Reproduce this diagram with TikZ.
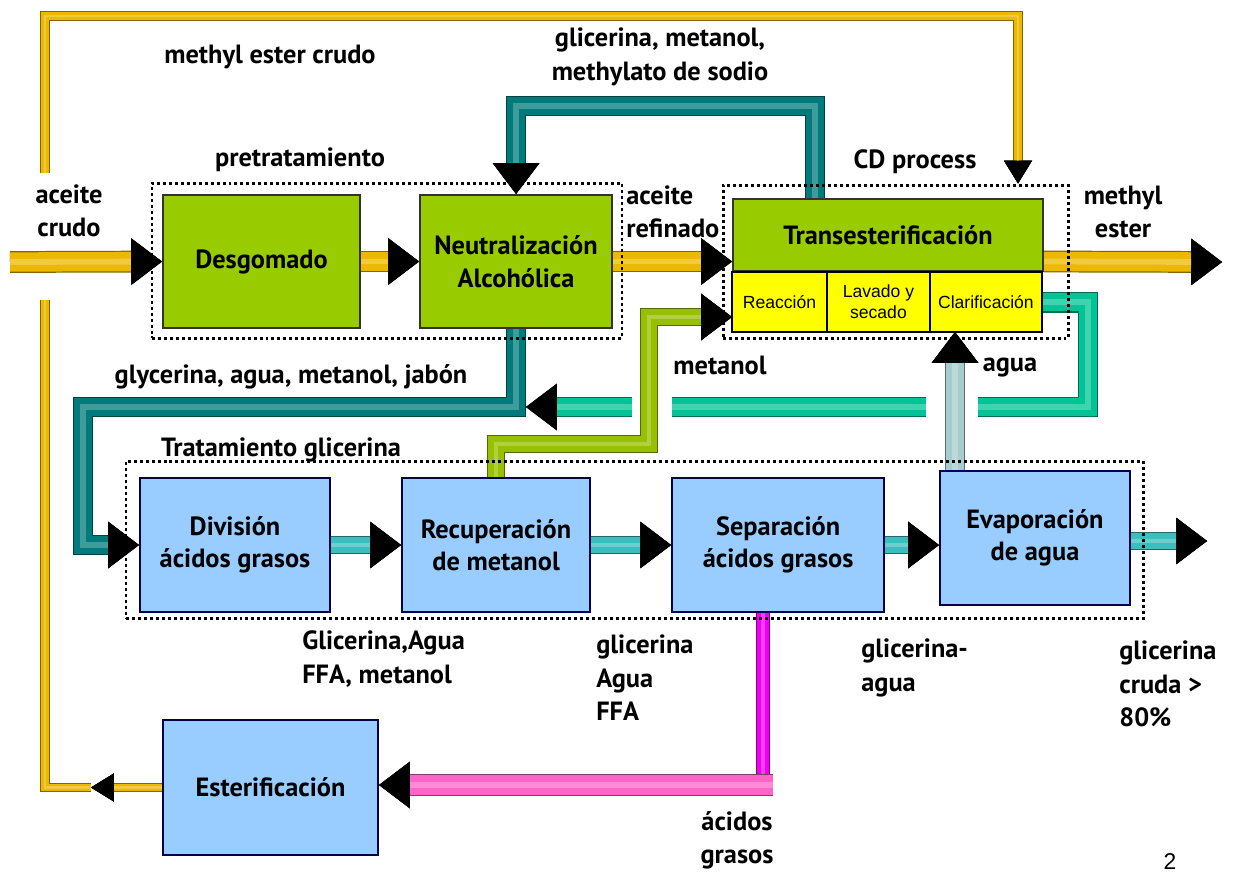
\documentclass[tikz,border=0pt]{standalone}
\usepackage{fontspec}
\setmainfont{PT Sans}
\newfontfamily\arialfont{Liberation Sans}
\usetikzlibrary{positioning,arrows.meta,fit,calc,backgrounds}

\definecolor{boxgreen}{RGB}{153,204,0}
\definecolor{boxyellow}{RGB}{255,255,0}
\definecolor{boxblue}{RGB}{153,204,255}
\definecolor{pgold}{RGB}{236,184,0}
\definecolor{pteal}{RGB}{0,122,122}
\definecolor{pagua}{RGB}{0,196,150}
\definecolor{polive}{RGB}{150,192,0}
\definecolor{pcyan}{RGB}{60,190,190}
\definecolor{pgrey}{RGB}{165,205,205}
\definecolor{ppink}{RGB}{255,100,200}
\definecolor{pmag}{RGB}{240,0,240}

\tikzstyle{gbox}=[rectangle, draw=black!80, fill=boxgreen, line width=1.2pt,
                  minimum height=2.66cm, inner sep=2pt, align=center,
                  font=\bfseries\fontsize{15}{19}\selectfont]
\tikzstyle{bbox}=[rectangle, draw=black!70!blue, fill=boxblue, line width=1.2pt,
                  minimum height=2.68cm, inner sep=2pt, align=center,
                  font=\bfseries\fontsize{15}{18.5}\selectfont]
\tikzstyle{ybox}=[rectangle, draw=black, fill=boxyellow, line width=0.8pt,
                  minimum height=1.2cm, inner sep=1pt, outer sep=0pt, align=center,
                  font=\arialfont\fontsize{10}{12}\selectfont]
\tikzstyle{frame}=[rectangle, draw=black, line width=1.7pt,
                   dash pattern=on 1.7pt off 1.7pt, inner sep=0pt]
\tikzstyle{lbl}=[font=\bfseries\fontsize{15}{19}\selectfont, align=center, inner sep=0pt]
\tikzstyle{bigtip}=[-{Triangle[length=17.5pt, width=26.5pt, line width=0pt, color=black]}]
\tikzstyle{smalltip}=[-{Triangle[length=13pt, width=16pt, line width=0pt, color=black]}]
\tikzset{pipe/.style 2 args={draw=#1, line width=#2,
          preaction={draw=#1!55!black, line width=#2+1.4pt},
          postaction={draw=#1!75!white, line width=0.3*#2}}}

\begin{document}
\begin{tikzpicture}[x=0.02cm, y=-0.02cm]
\useasboundingbox (0,0) rectangle (1248,873);

\node (Desg) [gbox, minimum width=3.94cm] at (261.5,261.5) {Desgomado};
\node (Neut) [gbox, minimum width=3.84cm, right=1.16cm of Desg] {Neutralización\\Alcohólica};
\node (Trans) [gbox, minimum width=6.2cm, minimum height=1.44cm] at (888,235) {Transesterificación};
\node (Reac) [ybox, minimum width=1.9cm, below right=0cm and 0cm of Trans.south west] {Reacción};
\node (Lav) [ybox, minimum width=2.06cm, right=0cm of Reac] {Lavado y\\secado};
\node (Clar) [ybox, minimum width=2.24cm, right=0cm of Lav] {Clarificación};

\node (Div) [bbox, minimum width=3.8cm] at (235,545) {División\\ácidos grasos};
\node (Recu) [bbox, minimum width=3.76cm, right=1.4cm of Div] {Recuperación\\de metanol};
\node (Sepa) [bbox, minimum width=4.24cm, right=1.6cm of Recu] {Separación\\ácidos grasos};
\node (Evap) [bbox, minimum width=3.8cm] at (1035,538) {Evaporación\\de agua};
\node (Ester) [bbox, minimum width=4.3cm, minimum height=2.7cm] at (270.5,787.5) {Esterificación};

\node (pre) [frame, fit={(152,183) (622,338)}] {};
\node (CD) [frame, fit={(723,185) (1068,338)}] {};
\node (trat) [frame, fit={(126,461) (1143,618)}] {};

\node (lmec) [lbl] at (270,57) {methyl ester crudo};
\node (lgmm) [lbl] at (660,57) {glicerina, metanol,\\methylato de sodio};
\node (lpre) [lbl] at (300,160) {pretratamiento};
\node (lcd) [lbl] at (915,162) {CD process};
\node (lac) [lbl] at (69,211) {aceite\\crudo};
\node (lar) [lbl, align=left, anchor=west] at (626,212) {aceite\\refinado};
\node (lme) [lbl] at (1123,212) {methyl\\ester};
\node (lgly) [lbl] at (291,377) {glycerina, agua, metanol, jabón};
\node (lmet) [lbl] at (720,365) {metanol};
\node (lagua) [lbl] at (1010,368) {agua};
\node (ltrat) [lbl] at (281,450) {Tratamiento glicerina};
\node (lgafm) [lbl, align=left, anchor=west] at (302,659) {Glicerina,Agua\\FFA, metanol};
\node (lgaf) [lbl, align=left, anchor=west] at (596,678) {glicerina\\Agua\\FFA};
\node (lga) [lbl, align=left, anchor=west] at (861,668) {glicerina-\\agua};
\node (lgc) [lbl, align=left, anchor=west] at (1119,684) {glicerina\\cruda >\\80\%};
\node (lag) [lbl] at (737,840) {ácidos\\grasos};
\node (lnum) [font=\arialfont\fontsize{13}{15}\selectfont] at (1170,862) {2};

\coordinate (oin) at (10,262);
\coordinate (oout) at (1222,262);
\coordinate (ylow) at (45,300);
\coordinate (yhigh) at (45,173);
\coordinate (ytop) at (1018,16);
\coordinate (tloop) at (815,106);
\coordinate (gjab) at (83,407);
\coordinate (agR) at (1088,407);
\coordinate (ag1) at (978,407);
\coordinate (ag2) at (926,407);
\coordinate (ag3) at (672,407);
\coordinate (ag4) at (632,407);
\coordinate (olA) at (649,444);
\coordinate (olB) at (649,317);
\coordinate (grx) at (955,400);
\coordinate (gout) at (1207,541);
\coordinate (mg) at (763,785);

\begin{scope}[on background layer]
 \draw[pipe={pgold}{11pt}, bigtip] (oin) -- (Desg.west);
 \draw[pipe={pgold}{11pt}, bigtip] (Desg.east) -- (Neut.west);
 \draw[pipe={pgold}{11pt}, bigtip] (Neut.east) -- (Neut.east -| Trans.west);
 \draw[pipe={pgold}{11pt}, bigtip] (Trans.east |- Neut.east) -- (oout);

 \draw[pipe={pgold}{4pt}, smalltip] (Ester.west) -- ++(-71,0) coordinate (yarr);
 \draw[pipe={pgold}{4pt}] (yarr) -| (ylow);
 \draw[pipe={pgold}{4pt}, smalltip] (yhigh) |- (ytop) -- (ytop |- CD.north);

 \draw[pipe={pteal}{10pt}, bigtip] (Trans.north -| tloop) -- (tloop) -| (Neut.north);
 \draw[pipe={pteal}{10pt}, bigtip] (Neut.south) |- (gjab) |- (Div.west);

 \draw[pipe={pagua}{10.5pt}] (Clar.east) -| (agR) -- (ag1);
 \draw[pipe={pagua}{10.5pt}] (ag2) -- (ag3);
 \draw[pipe={pagua}{10.5pt}, bigtip] (ag4) -- ($(Neut.south |- ag4)+(10,0)$);

 \draw[pipe={polive}{9pt}, bigtip] (Recu.north) |- (olA) -- (olB) -- (olB -| Reac.west);
 \draw[pipe={pgrey}{10pt}, bigtip] (Evap.north -| grx) -- (Clar.south -| grx);

 \draw[pipe={pcyan}{9pt}, bigtip] (Div.east) -- (Recu.west);
 \draw[pipe={pcyan}{9pt}, bigtip] (Recu.east) -- (Sepa.west);
 \draw[pipe={pcyan}{9pt}, bigtip] (Sepa.east) -- (Sepa.east -| Evap.west);
 \draw[pipe={pcyan}{9pt}, bigtip] (Evap.east |- gout) -- (gout);

 \draw[pipe={pmag}{7pt}] (Sepa.south -| mg) -- ($(mg)+(0,-11)$);
 \draw[pipe={ppink}{11pt}, bigtip] ($(mg)+(10,0)$) -- (mg -| Ester.east);
\end{scope}

\end{tikzpicture}
\end{document}
